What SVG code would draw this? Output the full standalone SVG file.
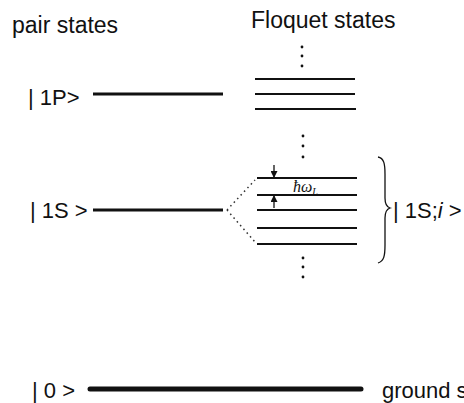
<svg xmlns="http://www.w3.org/2000/svg" width="464" height="403" viewBox="0 0 464 403">
<style>
text{font-family:"Liberation Sans",Arial,sans-serif;font-size:22px;fill:#111}
.hdr{font-size:23px}
.lvl{stroke:#111;stroke-width:3}
.fl{stroke:#111;stroke-width:2}
.dot{fill:#111}
.dash{stroke:#333;stroke-width:1.5;stroke-dasharray:1.5 3.5;fill:none}
.hw{font-family:"Liberation Serif","Times New Roman",serif;font-style:italic;font-size:16px}
</style>
<defs>
<marker id="ah" viewBox="0 0 10 10" refX="10" refY="5" markerWidth="8" markerHeight="7" markerUnits="userSpaceOnUse" orient="auto">
<path d="M0,0 L10,5 L0,10 z" fill="#111"/>
</marker>
</defs>
<rect width="464" height="403" fill="#fff"/>
<g id="headers">
<text class="hdr" x="12" y="33">pair states</text>
<text class="hdr" x="251" y="28">Floquet states</text>
</g>
<g id="state-1P">
<text x="28" y="105">| 1P&gt;</text>
<line class="lvl" x1="93" y1="94" x2="223" y2="94"/>
</g>
<g id="state-1S">
<text x="30" y="218">| 1S &gt;</text>
<line class="lvl" x1="93" y1="210" x2="223" y2="210"/>
</g>
<g id="state-0">
<text x="32" y="398">| 0 &gt;</text>
<line x1="90" y1="389" x2="361" y2="389" stroke="#111" stroke-width="5" stroke-linecap="round"/>
<text x="382" y="398">ground state</text>
</g>
<g id="floquet-1P">
<circle class="dot" cx="302" cy="47" r="1.4"/>
<circle class="dot" cx="302" cy="56" r="1.4"/>
<circle class="dot" cx="302" cy="66" r="1.4"/>
<line class="fl" x1="255" y1="79" x2="355" y2="79"/>
<line class="fl" x1="255" y1="94" x2="355" y2="94"/>
<line class="fl" x1="255" y1="109" x2="356" y2="109"/>
</g>
<g id="floquet-1S">
<circle class="dot" cx="303" cy="136" r="1.4"/>
<circle class="dot" cx="303" cy="146" r="1.4"/>
<circle class="dot" cx="303" cy="157" r="1.4"/>
<line class="fl" x1="257" y1="178" x2="357" y2="178"/>
<line class="fl" x1="257" y1="195" x2="357" y2="195"/>
<line class="fl" x1="257" y1="210" x2="357" y2="210"/>
<line class="fl" x1="257" y1="228" x2="357" y2="228"/>
<line class="fl" x1="257" y1="244" x2="357" y2="244"/>
<circle class="dot" cx="303" cy="258" r="1.4"/>
<circle class="dot" cx="303" cy="267" r="1.4"/>
<circle class="dot" cx="303" cy="277" r="1.4"/>
<text class="hw" x="293" y="192">ħω<tspan font-size="10" dy="3">L</tspan></text>
</g>
<g id="brace-label">
<path d="M378,157 C384,158 385,164 385,174 L385,198 C385,204 387,207 390,208 C387,209 385,212 385,218 L385,245 C385,256 384,261 378,263" fill="none" stroke="#111" stroke-width="1.3"/>
<text x="393" y="218">| 1S;<tspan font-style="italic">i</tspan> &gt;</text>
</g>
<g id="connectors">
<path class="dash" d="M227,210 L255,180"/>
<path class="dash" d="M227,210 L255,242"/>
<line x1="274" y1="165" x2="274" y2="178" stroke="#111" stroke-width="1.3" marker-end="url(#ah)"/>
<line x1="274" y1="208" x2="274" y2="195" stroke="#111" stroke-width="1.3" marker-end="url(#ah)"/>
</g>
</svg>
